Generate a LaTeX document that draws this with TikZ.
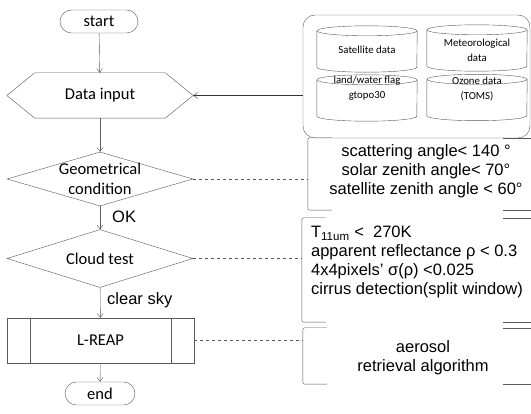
\documentclass[tikz,border=0pt]{standalone}
\usepackage{fontspec}
\setmainfont{Liberation Sans}
\newfontfamily\calibri{Carlito}
\usetikzlibrary{shapes.geometric, shapes.misc, arrows.meta}

\tikzset{
	flow/.style = {draw = black!65, thin},
	flowtext/.style = {font = \calibri\fontsize{16.5}{20}\selectfont, align = center, inner sep = 0pt},
	storetext/.style = {font = \calibri\fontsize{10.8}{15}\selectfont, align = center, inner sep = 0pt},
	remtext/.style = {font = \fontsize{16.5}{19}\selectfont, inner sep = 0pt},
	terminal/.style = {flow, rounded rectangle, minimum height = 23pt, inner sep = 0pt, flowtext},
	decision/.style = {flow, diamond, minimum width = 186pt, minimum height = 54pt, inner sep = 0pt},
	store/.style = {minimum width = 100pt, minimum height = 46pt, inner sep = 0pt},
	remark/.style = {minimum height = 72pt, inner sep = 0pt},
	flowarrow/.style = {flow, ->},
	link/.style = {flow, dashed}
}

\begin{document}
\begin{tikzpicture}[x = 1pt, y = 1pt, > = {Straight Barb[length = 4pt, width = 6pt]}]

	\path [use as bounding box, fill = white] (0, 0) rectangle (531, -414);

	% Flow chart
	
	\node [terminal, minimum width = 78pt] (start) at (99, -21.5) {start};
	
	\node [minimum width = 130pt, minimum height = 45pt, inner sep = 0pt, flowtext] (data) at (100, -95.5) {Data input};
	\draw [flow] (data.north west) -- (data.north east) -- ([xshift = 28pt] data.east) coordinate (dataR)
		-- (data.south east) -- (data.south west) -- ([xshift = -28pt] data.west) -- cycle;
	
	\node [decision] (geo) at (100, -179) {};
	\node [flowtext] (geotxt) at (geo) {Geometrical\\condition};
	
	\node [decision, minimum height = 58pt] (cloud) at (100, -258.5) {};
	\node [flowtext] (cloudtxt) at (cloud) {Cloud test};
	
	\node [flow, rectangle, minimum width = 187pt, minimum height = 45pt, flowtext] (lreap) at (100.5, -340.5) {L-REAP};
	\draw [flow] ([xshift = 23pt] lreap.north west) -- ([xshift = 23pt] lreap.south west);
	\draw [flow] ([xshift = -23pt] lreap.north east) -- ([xshift = -23pt] lreap.south east);
	
	\node [terminal, minimum width = 70pt] (finish) at (100, -393.5) {end};
	
	\draw [flowarrow] (start) -- (data);
	\draw [flowarrow] (data) -- (geo);
	\draw [flowarrow] (geo) -- (cloud);
	\draw [flowarrow] (cloud) -- (lreap);
	\draw [flowarrow] (lreap) -- (finish);
	
	\node [remtext, anchor = west] (ok) at (112, -217) {OK};
	\node [remtext, anchor = west] (clear) at (107, -300) {clear sky};

	% Input data sets
	
	\node [flow, rounded corners = 12pt, minimum width = 227pt, minimum height = 123pt] (inputs) at (416.5, -76.5) {};
	
	\foreach \name/\x/\y/\ty/\txt in {sat/367/-49/-49.5/{Satellite data}, met/477/-48/-50/{Meteorological\\data},
		land/367/-98/-88.5/{land/water flag\\gtopo30}, ozone/477/-97.5/-89.5/{Ozone data\\(TOMS)}}
	{
		\node [store] (\name) at (\x, \y) {};
		\node [storetext] (\name txt) at (\x, \ty) {\txt};
		\draw [flow] ([yshift = -5pt] \name.north) ellipse [x radius = 50pt, y radius = 5pt];
		\draw [flow] ([yshift = -5pt] \name.north west) -- ([yshift = 5pt] \name.south west)
			arc [start angle = 180, end angle = 360, x radius = 50pt, y radius = 5pt] -- ([yshift = -5pt] \name.north east);
	}
	
	\draw [->, draw = black!80, thin] (dataR -| inputs.west) -- (dataR);

	% Conditions
	
	\node [remark, minimum width = 223pt] (geobox) at (419.5, -174) {};
	\node [remtext, align = center] (geonote) at (426, -171.5)
		{scattering angle< 140 \textdegree\\solar zenith angle< 70\textdegree\\satellite zenith angle < 60\textdegree};
	
	\node [remark, minimum width = 229pt, minimum height = 104pt] (cloudbox) at (416.5, -270) {};
	\node [remtext, align = left] (cloudnote) at (417, -262)
		{T\textsubscript{11um} <\ \ 270K\\apparent reflectance ρ < 0.3\\4x4pixels’ σ(ρ) <0.025\\cirrus detection(split window)};
	
	\node [remark, minimum width = 228pt, minimum height = 56pt] (algbox) at (417, -356) {};
	\node [remtext, align = center] (algnote) at (423, -358) {aerosol\\retrieval algorithm};
	
	\foreach \name in {geobox, cloudbox, algbox}
	{
		\draw [flow, rounded corners = 2pt] ([xshift = 24pt] \name.north west) -- (\name.north west)
			-- (\name.south west) -- ([xshift = 24pt] \name.south west);
		\draw [flow] ([xshift = -28pt] \name.north east) -- (\name.north east);
		\draw [flow] ([xshift = -28pt] \name.south east) -- (\name.south east);
	}
	
	\draw [link] (geo.east) -- (geo.east -| geobox.west);
	\draw [link] (cloud.east) -- (cloud.east -| cloudbox.west);
	\draw [link] (lreap.east) -- (lreap.east -| algbox.west);

\end{tikzpicture}
\end{document}
